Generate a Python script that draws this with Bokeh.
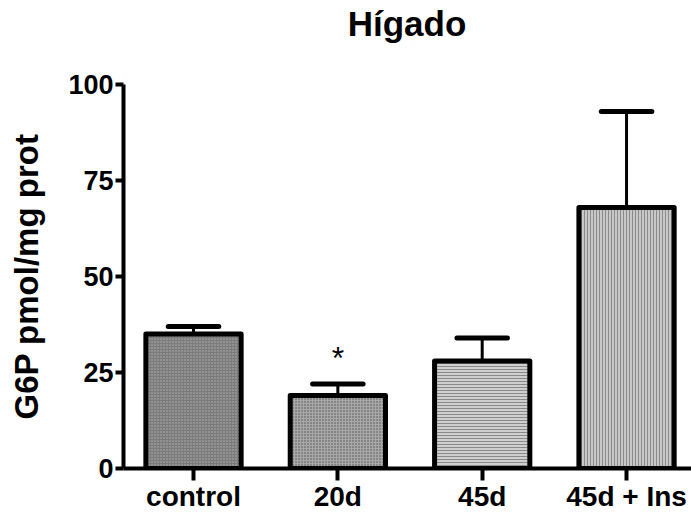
from bokeh.plotting import figure
from bokeh.models import FixedTicker, Range1d, Div
from bokeh.layouts import column
from bokeh.core.properties import value
from bokeh.embed import file_html
from bokeh.resources import INLINE

# ---- data ----
categories = ["control", "20d", "45d", "45d + Ins"]
means = [35, 19, 28, 68]
sem = [2, 3, 6, 25]
signif = ["", "*", "", ""]
y_ticks = [0, 25, 50, 75, 100]
title_text = "Hígado"
y_label = "G6P pmol/mg prot"

# ---- styles ----
fills = ["#7c7c7c", "#a8a8a8", "#cfcfcf", "#c8c8c8"]
hatches = ["dot", "dot", "horizontal_line", "vertical_line"]
hatch_colors = ["#b4b4b4", "#505050", "#8a8a8a", "#8a8a8a"]
FONT = "Liberation Sans"

xs = list(range(len(categories)))
upper = [m + s for m, s in zip(means, sem)]
bar_w = 0.66
cap_w = 0.35

title_div = Div(text=title_text, width=568, height=46, margin=(0, 0, 0, 123),
                styles={"font-family": FONT, "font-size": "35px",
                        "font-weight": "bold", "text-align": "center",
                        "color": "black", "line-height": "40px",
                        "padding-top": "4px"})

p = figure(width=691, height=468, output_backend="svg", toolbar_location=None,
           x_range=Range1d(-0.485, 3.45), y_range=Range1d(0, 100),
           min_border_left=123, min_border_right=0, min_border_top=38,
           min_border_bottom=45)

p.background_fill_color = "white"
p.border_fill_color = "white"
p.outline_line_color = None
p.xgrid.grid_line_color = None
p.ygrid.grid_line_color = None

# error bars (drawn first so bar outline covers stem bottom)
p.segment(x0=xs, y0=means, x1=xs, y1=upper, line_color="black", line_width=3)
p.segment(x0=[x - cap_w / 2 for x in xs], y0=upper,
          x1=[x + cap_w / 2 for x in xs], y1=upper,
          line_color="black", line_width=5, line_cap="round")

for i in xs:
    p.vbar(x=[xs[i]], top=[means[i]], bottom=0, width=bar_w,
           fill_color=fills[i], line_color="black", line_width=5,
           line_join="round",
           hatch_pattern=hatches[i], hatch_color=hatch_colors[i],
           hatch_scale=3, hatch_weight=1)

p.text(x=xs, y=upper, text=signif, text_align="center", text_baseline="bottom",
       y_offset=-8, text_font=value(FONT), text_font_size="32px",
       text_color="black")

# y axis
ya = p.yaxis[0]
ya.ticker = FixedTicker(ticks=y_ticks)
ya.axis_label = y_label
ya.axis_label_text_font = FONT
ya.axis_label_text_font_size = "33px"
ya.axis_label_text_font_style = "bold"
ya.axis_label_text_color = "black"
ya.axis_label_standoff = 20
ya.major_label_text_font = FONT
ya.major_label_text_font_size = "27px"
ya.major_label_text_font_style = "bold"
ya.major_label_text_color = "black"
ya.major_label_standoff = 2
ya.axis_line_width = 4
ya.major_tick_line_width = 4
ya.major_tick_out = 8
ya.major_tick_in = 0
ya.minor_tick_line_color = None

# x axis
xa = p.xaxis[0]
xa.ticker = FixedTicker(ticks=xs)
xa.major_label_overrides = {i: c for i, c in enumerate(categories)}
xa.major_label_text_font = FONT
xa.major_label_text_font_size = "28px"
xa.major_label_text_font_style = "bold"
xa.major_label_text_color = "black"
xa.major_label_standoff = 0
xa.axis_line_width = 4
xa.major_tick_line_width = 4
xa.major_tick_out = 12
xa.major_tick_in = 0
xa.minor_tick_line_color = None

layout = column(title_div, p, spacing=0)
open("out.html", "w").write(file_html(layout, INLINE))
